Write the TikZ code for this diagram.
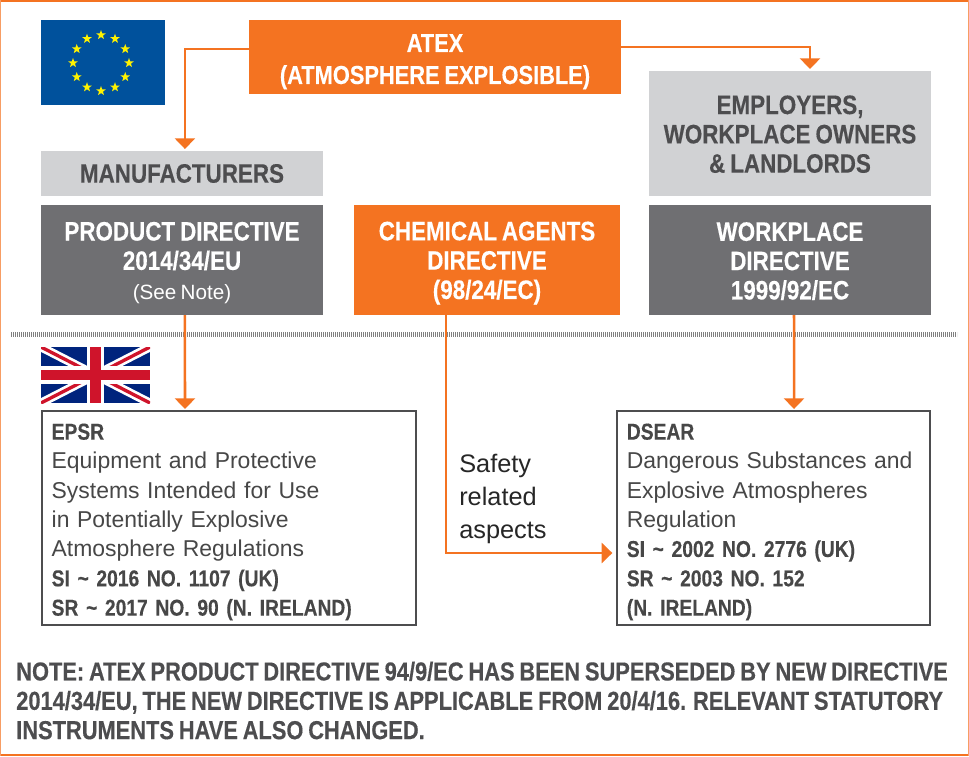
\documentclass[tikz,border=0pt]{standalone}
\usepackage{fontspec}
\setmainfont[FakeStretch=1.0,WordSpace=0.75,BoldFeatures={FakeStretch=0.84,WordSpace=0.8,FakeBold=0.3}]{Liberation Sans}
\usetikzlibrary{arrows.meta,shapes.geometric}
\definecolor{atexorange}{HTML}{F47321}
\definecolor{darkbox}{HTML}{6F6F72}
\definecolor{lightbox}{HTML}{D1D2D4}
\definecolor{inktext}{HTML}{4D4D4F}
\definecolor{eublue}{HTML}{00519C}
\definecolor{ukblue}{HTML}{00247D}
\definecolor{ukred}{HTML}{CF142B}
\newcommand{\lift}[1]{\rule{0pt}{#1}}
\tikzset{
  px/.style 2 args={minimum width=#1*.75pt,minimum height=#2*.75pt},
  box/.style={inner sep=0pt,outer sep=0pt,align=center,font=\fontsize{20}{22}\selectfont\bfseries},
  orangebox/.style={box,fill=atexorange,text=white},
  darkboxed/.style={box,fill=darkbox,text=white},
  lightboxed/.style={box,fill=lightbox,text=inktext},
  actbox/.style={inner sep=0pt,outer sep=0pt,draw=inktext,line width=1.6pt,align=left,text=black!72,font=\fontsize{17.2}{22}\selectfont},
  link/.style={draw=atexorange,line width=1.9pt,-{Triangle[width=15pt,length=8pt]}},
}
\begin{document}
\begin{tikzpicture}[x=.75pt,y=-.75pt]
\useasboundingbox (0,0) rectangle (969,756);
% frame
\fill[atexorange] (0,0) rectangle (969,2);
\fill[atexorange] (0,754) rectangle (969,756);
\fill[atexorange!70] (0,0) rectangle (1,756);
\fill[atexorange!70] (968,0) rectangle (969,756);
% flags
\fill[eublue] (41,20) rectangle (165,105);
\foreach \i in {0,30,...,330}
  \node[star,star points=5,star point ratio=2.4,fill=yellow,inner sep=0pt,minimum size=7.5pt] (euStar\i) at ({101+28*cos(\i+90)},{63-28*sin(\i+90)}) {};
\begin{scope}
\clip (41,347) rectangle (150,403);
\fill[ukblue] (41,347) rectangle (150,403);
\draw[white,line width=6.5pt] (41,347)--(150,403) (41,403)--(150,347);
\draw[ukred,line width=2.5pt] (41,347)--(95.5,375) (95.5,375)--(150,403) (41,403)--(95.5,375) (95.5,375)--(150,347);
\draw[white,line width=13pt] (95.5,347)--(95.5,403) (41,375)--(150,375);
\draw[ukred,line width=8pt] (95.5,347)--(95.5,403) (41,375)--(150,375);
\end{scope}
% boxes
\node[orangebox,font=\fontsize{19.5}{24}\selectfont\bfseries,px={372}{74}] (atex) at (435,57) {\lift{20.5pt}ATEX\\(ATMOSPHERE EXPLOSIBLE)};
\node[lightboxed,px={282}{45}] (manufacturers) at (182,173.5) {MANUFACTURERS};
\node[lightboxed,px={282}{125}] (employers) at (790,133.5) {\lift{15pt}EMPLOYERS,\\WORKPLACE OWNERS\\\& LANDLORDS};
\node[darkboxed,px={282}{110}] (product) at (182,260) {\lift{18pt}PRODUCT DIRECTIVE\\2014/34/EU\\{\fontsize{15.5}{22}\selectfont\mdseries (See Note)}};
\node[orangebox,px={266}{110}] (chemical) at (487,260) {\lift{18.6pt}CHEMICAL AGENTS\\DIRECTIVE\\(98/24/EC)};
\node[darkboxed,px={282}{110}] (workplace) at (790,260) {\lift{15.6pt}WORKPLACE\\DIRECTIVE\\1999/92/EC};
\draw[gray,line width=3.4pt,dash pattern=on .8pt off .7pt] (11,334.5)--(957,334.5);
\node[actbox,px={374}{214},text width=266pt] (epsr) at (229,518) {\lift{18pt}\textbf{EPSR}\\Equipment and Protective\\Systems Intended for Use\\in Potentially Explosive\\Atmosphere Regulations\\\textbf{SI \char`~{} 2016 NO. 1107 (UK)}\\\textbf{SR \char`~{} 2017 NO. 90 (N. IRELAND)}};
\node[actbox,px={313}{214},text width=220pt] (dsear) at (773.5,518) {\lift{18pt}\textbf{DSEAR}\\Dangerous Substances and\\Explosive Atmospheres\\Regulation\\\textbf{SI \char`~{} 2002 NO. 2776 (UK)}\\\textbf{SR \char`~{} 2003 NO. 152}\\\textbf{(N. IRELAND)}};
\node[inner sep=0pt,anchor=west,align=left,text=black!85,font=\fontsize{19}{24.7}\selectfont] (safety) at (459,499) {Safety\\related\\aspects};
\node[inner sep=0pt,anchor=west,align=left,text=inktext,font=\fontsize{19.5}{22}\selectfont\bfseries] (note) at (16,700.5) {NOTE: ATEX PRODUCT DIRECTIVE 94/9/EC HAS BEEN SUPERSEDED BY NEW DIRECTIVE\\2014/34/EU, THE NEW DIRECTIVE IS APPLICABLE FROM 20/4/16. RELEVANT STATUTORY\\INSTRUMENTS HAVE ALSO CHANGED.};
% connectors
\draw[link,shorten >=1.5pt] ([yshift=6pt]atex.west)-|([xshift=2.2pt]manufacturers.north);
\draw[link,shorten >=1.5pt] ([yshift=7.5pt]atex.east)-|([xshift=15pt]employers.north);
\draw[link,shorten >=1.5pt] ([xshift=2.2pt]product.south)--([xshift=-33pt]epsr.north);
\draw[link,shorten >=1.5pt] ([xshift=3pt]workplace.south)--([xshift=15.4pt]dsear.north);
\draw[link,shorten >=3.5pt] ([xshift=-30.75pt]chemical.south)|-([yshift=-26.25pt]dsear.west);
\end{tikzpicture}
\end{document}
